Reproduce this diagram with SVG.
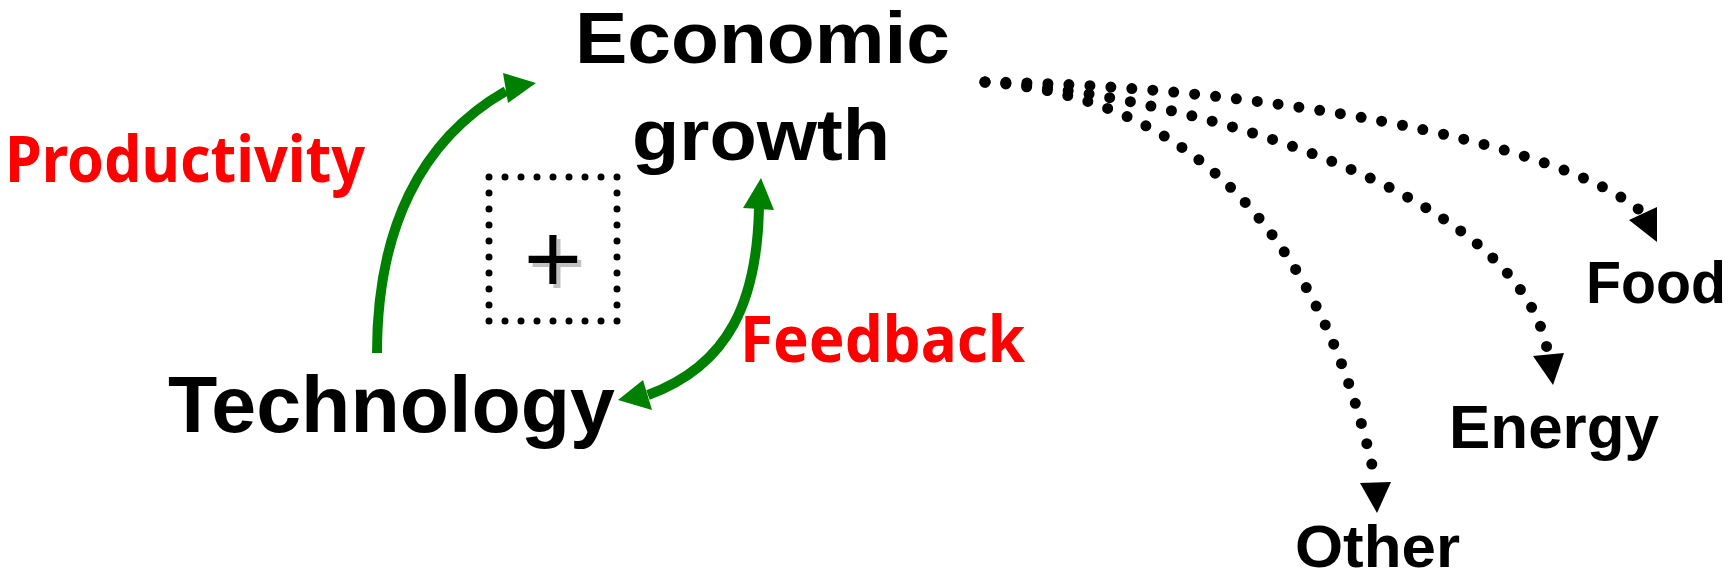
<svg xmlns="http://www.w3.org/2000/svg" width="1732" height="580" viewBox="0 0 1732 580">
  <style>
    .node { font-family: "Liberation Sans", Arial, sans-serif; font-weight: bold; fill: #000; }
    .label { font-family: "Comic Sans MS", "Noto Sans", sans-serif; font-weight: bold; fill: #ff0000; font-size: 64px; }
    .green { fill: none; stroke: #008000; stroke-width: 10; }
    .greenhead { fill: #008000; }
    .dots { fill: none; stroke: #000; stroke-width: 11; stroke-linecap: round; stroke-dasharray: 0 21; }
    .head { fill: #000; }
    .box { fill: none; stroke: #000; stroke-width: 7; stroke-linecap: round; stroke-dasharray: 0 16; }
    .plus { font-family: "Liberation Sans", Arial, sans-serif; font-size: 100px; text-anchor: middle; fill: #000; }
  </style>
  <defs>
    <!-- hard grey offset shadow for the loop sign -->
    <filter id="sign-shadow" x="-20%" y="-20%" width="150%" height="150%">
      <feFlood flood-color="#c0c0c0" result="grey"/>
      <feComposite in="grey" in2="SourceAlpha" operator="in" result="shape"/>
      <feOffset in="shape" dx="4" dy="4" result="shadow"/>
      <feMerge>
        <feMergeNode in="shadow"/>
        <feMergeNode in="SourceGraphic"/>
      </feMerge>
    </filter>
  </defs>

  <!-- nodes -->
  <g id="economic-growth">
    <text class="node" x="575" y="63" font-size="72" textLength="375" lengthAdjust="spacingAndGlyphs">Economic</text>
    <text class="node" x="632" y="160" font-size="72" textLength="258" lengthAdjust="spacingAndGlyphs">growth</text>
  </g>
  <g id="technology">
    <text class="node" x="168" y="432" font-size="79" textLength="447" lengthAdjust="spacingAndGlyphs">Technology</text>
  </g>
  <g id="food">
    <text class="node" x="1586" y="303" font-size="60" textLength="140" lengthAdjust="spacingAndGlyphs">Food</text>
  </g>
  <g id="energy">
    <text class="node" x="1449" y="448" font-size="62" textLength="210" lengthAdjust="spacingAndGlyphs">Energy</text>
  </g>
  <g id="other">
    <text class="node" x="1295" y="567" font-size="60" textLength="165" lengthAdjust="spacingAndGlyphs">Other</text>
  </g>

  <!-- reinforcing-loop sign -->
  <g id="loop-sign">
    <rect class="box" x="489" y="177" width="128" height="144"/>
    <text class="plus" x="553" y="293" filter="url(#sign-shadow)">+</text>
  </g>

  <!-- connector labels -->
  <g id="labels">
    <text class="label" x="5" y="182" textLength="360" lengthAdjust="spacingAndGlyphs">Productivity</text>
    <text class="label" x="740" y="362" textLength="285" lengthAdjust="spacingAndGlyphs">Feedback</text>
  </g>

  <!-- connectors -->
  <g id="connectors">
    <!-- Technology -> Economic growth -->
    <path class="green" d="M377,353 C377,230 420,140 506,91"/>
    <polygon class="greenhead" points="536,83 503,73 508,103"/>
    <!-- two-way feedback -->
    <path class="green" d="M759,208 C757,300 730,365 648,395"/>
    <polygon class="greenhead" points="761,178 743,208 774,210"/>
    <polygon class="greenhead" points="618,400 643,380 652,410"/>
    <!-- demand branches -->
    <path class="dots" d="M985,82 C1250,85 1560,140 1643,213"/>
    <polygon class="head" points="1629,220 1657,207 1657,242"/>
    <path class="dots" d="M985,82 C1150,90 1520,180 1548,354"/>
    <polygon class="head" points="1533,356 1564,353 1553,385"/>
    <path class="dots" d="M985,82 C1130,92 1310,170 1376,483"/>
    <polygon class="head" points="1360,483 1391,482 1377,513"/>
  </g>
</svg>
